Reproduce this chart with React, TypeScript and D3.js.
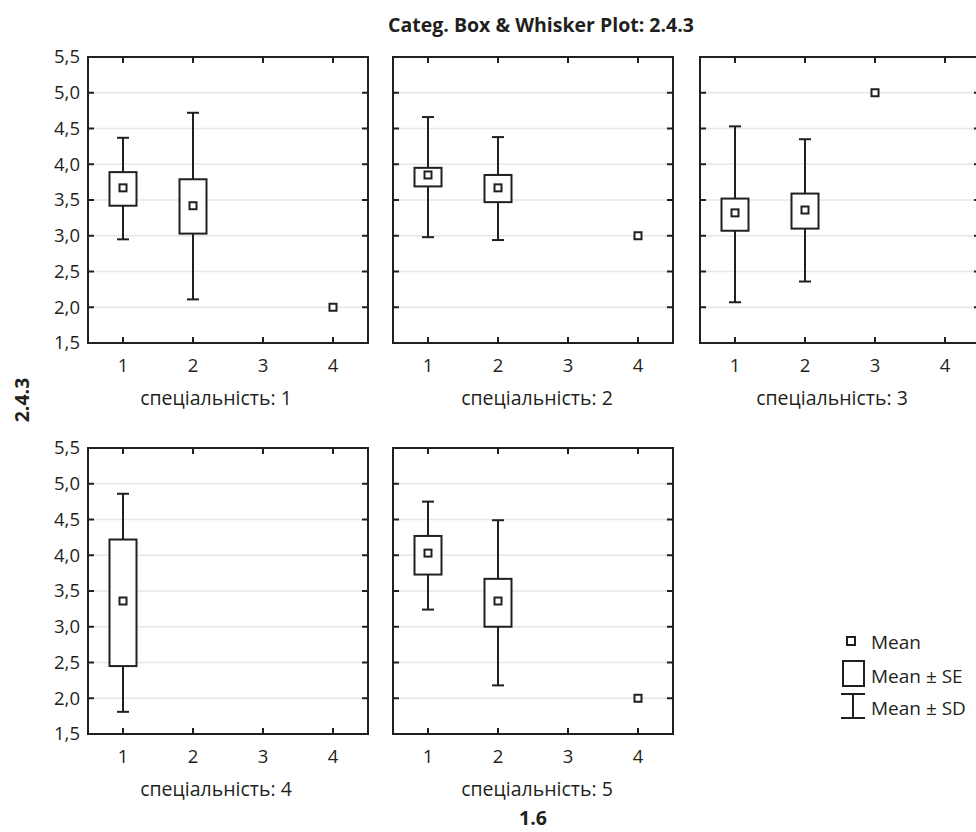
import React, { useRef, useEffect } from "react";
import * as d3 from "d3";

// categories on x axis (1.6)
const categories = [1, 2, 3, 4];
const panelLabels = [
  "спеціальність: 1",
  "спеціальність: 2",
  "спеціальність: 3",
  "спеціальність: 4",
  "спеціальність: 5",
];
const yTicks = [1.5, 2.0, 2.5, 3.0, 3.5, 4.0, 4.5, 5.0, 5.5];

// values per panel, one entry per category (null = no data)
const means = [
  [3.67, 3.42, null, 2.0],
  [3.85, 3.67, null, 3.0],
  [3.32, 3.36, 5.0, null],
  [3.36, null, null, null],
  [4.03, 3.36, null, 2.0],
];
const seLow = [
  [3.42, 3.03, null, null],
  [3.69, 3.47, null, null],
  [3.07, 3.1, null, null],
  [2.45, null, null, null],
  [3.73, 3.0, null, null],
];
const seHigh = [
  [3.89, 3.79, null, null],
  [3.95, 3.85, null, null],
  [3.52, 3.59, null, null],
  [4.22, null, null, null],
  [4.27, 3.67, null, null],
];
const sdLow = [
  [2.95, 2.11, null, null],
  [2.98, 2.94, null, null],
  [2.07, 2.36, null, null],
  [1.81, null, null, null],
  [3.24, 2.18, null, null],
];
const sdHigh = [
  [4.37, 4.72, null, null],
  [4.66, 4.38, null, null],
  [4.53, 4.35, null, null],
  [4.86, null, null, null],
  [4.75, 4.49, null, null],
];

const FONT = "'Open Sans', 'Noto Sans', sans-serif";
const INK = "#231f20";

export default function App() {
  const svgRef = useRef<SVGSVGElement>(null);

  useEffect(() => {
    const svg = d3.select(svgRef.current);
    svg.selectAll("*").remove();

    const width = 976;
    const height = 832;
    const pw = 280;
    const ph = 286;
    const colX = [88, 393, 700];
    const rowY = [57, 448];
    const labelShift = [-12, 4, -8];

    svg.append("rect").attr("width", width).attr("height", height).attr("fill", "white");

    // title
    svg
      .append("text")
      .attr("x", 541)
      .attr("y", 32)
      .attr("text-anchor", "middle")
      .attr("font-family", FONT)
      .attr("font-weight", "bold")
      .attr("font-size", 19.5)
      .attr("fill", INK)
      .text("Categ. Box & Whisker Plot: 2.4.3");

    // y axis title
    svg
      .append("text")
      .attr("transform", "translate(29,400) rotate(-90)")
      .attr("text-anchor", "middle")
      .attr("font-family", FONT)
      .attr("font-weight", "bold")
      .attr("font-size", 19.5)
      .attr("fill", INK)
      .text("2.4.3");

    // x axis title
    svg
      .append("text")
      .attr("x", 533)
      .attr("y", 825)
      .attr("text-anchor", "middle")
      .attr("font-family", FONT)
      .attr("font-weight", "bold")
      .attr("font-size", 19.5)
      .attr("fill", INK)
      .text("1.6");

    const x = d3.scaleLinear().domain([0.5, 4.5]).range([0, pw]);
    const y = d3.scaleLinear().domain([1.5, 5.5]).range([ph, 0]);

    panelLabels.forEach((label, p) => {
      const col = p % 3;
      const row = Math.floor(p / 3);
      const g = svg
        .append("g")
        .attr("transform", `translate(${colX[col]},${rowY[row]})`);

      // gridlines
      g.selectAll(".grid")
        .data(yTicks.slice(1, -1))
        .enter()
        .append("line")
        .attr("x1", 0)
        .attr("x2", pw)
        .attr("y1", (d) => y(d))
        .attr("y2", (d) => y(d))
        .attr("stroke", "#e6e6e6")
        .attr("stroke-width", 1.5);

      // inner ticks on all four sides
      const tl = 6;
      yTicks.slice(1, -1).forEach((v) => {
        g.append("line").attr("x1", 0).attr("x2", tl).attr("y1", y(v)).attr("y2", y(v))
          .attr("stroke", INK).attr("stroke-width", 2);
        g.append("line").attr("x1", pw - tl).attr("x2", pw).attr("y1", y(v)).attr("y2", y(v))
          .attr("stroke", INK).attr("stroke-width", 2);
      });
      categories.forEach((c) => {
        g.append("line").attr("x1", x(c)).attr("x2", x(c)).attr("y1", 0).attr("y2", tl)
          .attr("stroke", INK).attr("stroke-width", 2);
        g.append("line").attr("x1", x(c)).attr("x2", x(c)).attr("y1", ph - tl).attr("y2", ph)
          .attr("stroke", INK).attr("stroke-width", 2);
      });

      // frame
      g.append("rect")
        .attr("width", pw)
        .attr("height", ph)
        .attr("fill", "none")
        .attr("stroke", INK)
        .attr("stroke-width", 2);

      // y tick labels on first column
      if (col === 0) {
        g.selectAll(".ylab")
          .data(yTicks)
          .enter()
          .append("text")
          .attr("x", -8)
          .attr("y", (d) => y(d))
          .attr("dy", "0.35em")
          .attr("text-anchor", "end")
          .attr("font-family", FONT)
          .attr("font-size", 18.5)
          .attr("fill", INK)
          .text((d) => d3.format(".1f")(d).replace(".", ","));
      }

      // x tick labels
      g.selectAll(".xlab")
        .data(categories)
        .enter()
        .append("text")
        .attr("x", (d) => x(d))
        .attr("y", ph + 29)
        .attr("text-anchor", "middle")
        .attr("font-family", FONT)
        .attr("font-size", 18.5)
        .attr("fill", INK)
        .text((d) => d);

      // panel label
      g.append("text")
        .attr("x", pw / 2 + labelShift[col])
        .attr("y", ph + 62)
        .attr("text-anchor", "middle")
        .attr("font-family", FONT)
        .attr("font-size", 19.5)
        .attr("fill", INK)
        .text(label);

      // boxes and whiskers
      categories.forEach((c, i) => {
        const m = means[p][i];
        if (m == null) return;
        const cx = x(c);
        const lo = sdLow[p][i];
        const hi = sdHigh[p][i];
        const sl = seLow[p][i];
        const sh = seHigh[p][i];
        if (lo != null && hi != null) {
          g.append("line").attr("x1", cx).attr("x2", cx).attr("y1", y(hi)).attr("y2", y(lo))
            .attr("stroke", INK).attr("stroke-width", 2);
          [lo, hi].forEach((v) => {
            g.append("line").attr("x1", cx - 6).attr("x2", cx + 6).attr("y1", y(v)).attr("y2", y(v))
              .attr("stroke", INK).attr("stroke-width", 2);
          });
        }
        if (sl != null && sh != null) {
          g.append("rect")
            .attr("x", cx - 13.5)
            .attr("y", y(sh))
            .attr("width", 27)
            .attr("height", y(sl) - y(sh))
            .attr("fill", "white")
            .attr("stroke", INK)
            .attr("stroke-width", 2);
        }
        g.append("rect")
          .attr("x", cx - 3.5)
          .attr("y", y(m) - 3.5)
          .attr("width", 7)
          .attr("height", 7)
          .attr("fill", "white")
          .attr("stroke", INK)
          .attr("stroke-width", 2);
      });
    });

    // legend
    const lg = svg.append("g");
    lg.append("rect").attr("x", 847).attr("y", 637).attr("width", 8).attr("height", 8)
      .attr("fill", "white").attr("stroke", INK).attr("stroke-width", 2);
    lg.append("rect").attr("x", 843).attr("y", 661).attr("width", 21).attr("height", 25)
      .attr("fill", "white").attr("stroke", INK).attr("stroke-width", 2);
    lg.append("line").attr("x1", 853).attr("x2", 853).attr("y1", 694).attr("y2", 718)
      .attr("stroke", INK).attr("stroke-width", 2);
    [694, 718].forEach((v) => {
      lg.append("line").attr("x1", 841).attr("x2", 865).attr("y1", v).attr("y2", v)
        .attr("stroke", INK).attr("stroke-width", 2);
    });
    const legendText = ["Mean", "Mean ± SE", "Mean ± SD"];
    const legendY = [649, 683, 715];
    legendText.forEach((t, i) => {
      lg.append("text")
        .attr("x", 871)
        .attr("y", legendY[i])
        .attr("font-family", FONT)
        .attr("font-size", 19)
        .attr("fill", INK)
        .text(t);
    });
  }, []);

  return (
    <svg
      ref={svgRef}
      width={976}
      height={832}
      style={{ position: "absolute", left: 0, top: 0 }}
    />
  );
}
